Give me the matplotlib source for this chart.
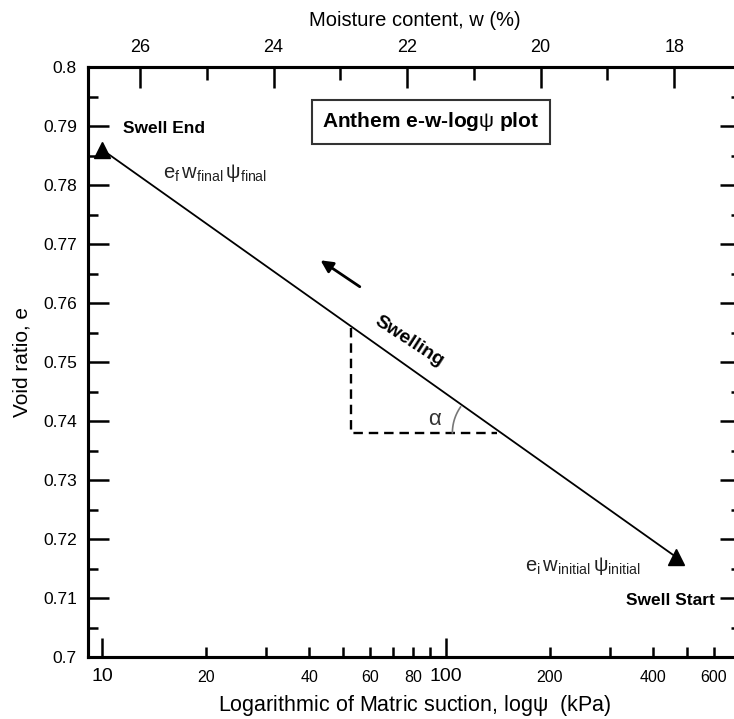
import numpy as np
import matplotlib
matplotlib.use('Agg')
import matplotlib.pyplot as plt

plt.rcParams['font.family'] = ['Liberation Sans', 'DejaVu Sans']
plt.rcParams['mathtext.fontset'] = 'custom'
plt.rcParams['mathtext.rm'] = 'Liberation Sans'
plt.rcParams['mathtext.it'] = 'Liberation Sans'

# swell path: end point (wet) and start point (dry)
suction = [10, 465]          # kPa
void_ratio = [0.786, 0.717]

# slope construction (dashed right triangle)
tri_suction = [53, 53, 141]
tri_void = [0.7557, 0.738, 0.738]

# direction arrow
arrow_from = (57, 0.7625)
arrow_to = (42.5, 0.7675)

xlim = (9.1, 720)
ylim = (0.7, 0.8)
wlim = (26.78, 17.0)

bottom_major = [10, 100]
bottom_minor = [20, 30, 40, 50, 60, 70, 80, 90, 200, 300, 400, 500, 600, 700]
bottom_minor_lbl = ['20', '', '40', '', '60', '', '80', '', '200', '', '400', '', '600', '']
y_major = np.round(np.arange(0.70, 0.801, 0.01), 2)
y_minor = np.round(np.arange(0.705, 0.80, 0.01), 3)
w_major = [18, 20, 22, 24, 26]
w_minor = [17, 19, 21, 23, 25]

fig = plt.figure(figsize=(7.34, 7.19), dpi=100)
ax = fig.add_axes([0.1199, 0.0862, 0.8896, 0.8206])
ax.set_xscale('log')
ax.set_xlim(*xlim)
ax.set_ylim(*ylim)

ax.plot(suction, void_ratio, color='black', lw=1.3, zorder=3)
ax.plot(suction, void_ratio, linestyle='none', marker='^', ms=12,
        color='black', zorder=4)
ax.plot(tri_suction, tri_void, color='black', lw=1.7, ls=(0, (4, 2.5)))
ax.annotate('', xy=arrow_to, xytext=arrow_from,
            arrowprops=dict(arrowstyle='-|>', color='black', lw=2,
                            mutation_scale=18))

# angle arc at the slope corner (drawn in pixel space)
fig.canvas.draw()
cx, cy = ax.transData.transform((tri_suction[2], tri_void[2]))
ang = np.radians(np.linspace(145, 180, 30))
r = 45
pts = ax.transData.inverted().transform(
    np.column_stack([cx + r * np.cos(ang), cy + r * np.sin(ang)]))
ax.plot(pts[:, 0], pts[:, 1], color='#777777', lw=1.2)
ax.text(93, 0.7403, r'$\alpha$', fontsize=16, color='#333333',
        ha='center', va='center')

ax.text(78, 0.7535, 'Swelling', fontsize=14, fontweight='bold',
        rotation=-33, ha='center', va='center')
ax.text(11.5, 0.7895, 'Swell End', fontsize=12.5, fontweight='bold',
        ha='left', va='center')
ax.text(333, 0.7095, 'Swell Start', fontsize=12.5, fontweight='bold',
        ha='left', va='center')
ax.text(15, 0.7820, r'$\mathrm{e_f\,w_{final}\,\psi_{final}}$', fontsize=14.5,
        color='#222222', ha='left', va='center')
ax.text(170, 0.7154, r'$\mathrm{e_i\,w_{initial}\,\psi_{initial}}$', fontsize=14.5,
        color='#222222', ha='left', va='center')
ax.text(0.525, 0.907, r'Anthem e-w-log$\mathrm{\psi}$ plot', transform=ax.transAxes,
        fontsize=15, fontweight='bold', ha='center', va='center',
        bbox=dict(boxstyle='square,pad=0.5', fc='white', ec='#333333', lw=1.5))

ax.set_xticks(bottom_major, ['10', '100'])
ax.set_xticks(bottom_minor, bottom_minor_lbl, minor=True)
ax.set_yticks(y_major, [f'{v:g}' for v in y_major])
ax.set_yticks(y_minor, minor=True)
ax.tick_params(axis='x', which='major', direction='in', length=14, width=1.8,
               labelsize=14, pad=8)
ax.tick_params(axis='x', which='minor', direction='in', length=7, width=1.8,
               labelsize=11.5, pad=9)
ax.tick_params(axis='y', which='major', direction='in', length=15, width=1.8,
               labelsize=12.5, right=True, pad=8)
ax.tick_params(axis='y', which='minor', direction='in', length=7, width=1.8,
               right=True)
for s in ax.spines.values():
    s.set_linewidth(2.2)

ax.set_xlabel('Logarithmic of Matric suction, log$\\mathrm{\\psi}$  (kPa)',
              fontsize=15.5, labelpad=6)
ax.set_ylabel('Void ratio, e', fontsize=15, labelpad=8)

top = ax.twiny()
top.set_xlim(*wlim)
top.set_xticks(w_major, [str(v) for v in w_major])
top.set_xticks(w_minor, minor=True)
top.tick_params(axis='x', which='major', direction='in', length=15, width=1.8,
                labelsize=13, pad=8)
top.tick_params(axis='x', which='minor', direction='in', length=9, width=1.8)
top.set_xlabel('Moisture content, w (%)', fontsize=14.5, labelpad=9)
for s in top.spines.values():
    s.set_linewidth(2.2)

fig.savefig('out.png', dpi=100)
